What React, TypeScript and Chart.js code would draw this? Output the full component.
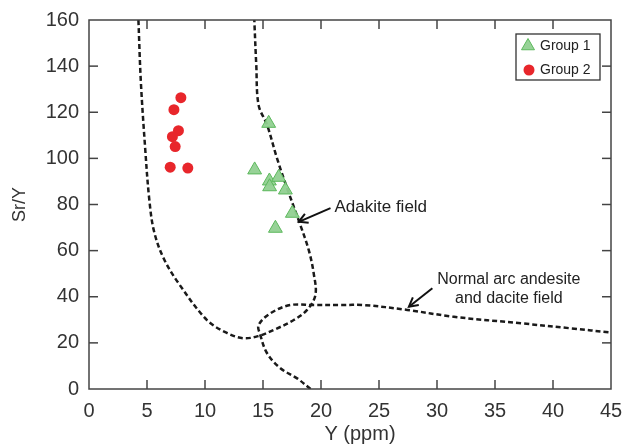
import React, { useEffect, useRef } from "react";
import { Chart, registerables } from "chart.js";

Chart.register(...registerables);

// ---- data ----
const group1X = [15.49, 14.28, 15.55, 16.35, 15.57, 16.93, 17.53, 16.07];
const group1Y = [115.2, 95.0, 90.2, 91.8, 87.7, 86.3, 76.2, 69.7];
const group2X = [7.92, 7.32, 7.71, 7.19, 7.43, 7.0, 8.52];
const group2Y = [126.3, 121.1, 112.0, 109.4, 105.1, 96.2, 95.8];

const adakiteX = [4.26, 4.47, 4.84, 5.2, 5.6, 6.42, 7.7, 10.17, 11.89, 13.33, 14.62, 15.92, 17.65, 18.8, 19.52, 19.37, 18.94, 18.22, 17.08, 16.21, 15.35, 14.62, 14.42, 14.25];
const adakiteY = [160, 133.2, 104.5, 82.0, 68.5, 56.8, 46.0, 29.9, 24.3, 22.0, 23.0, 25.6, 29.9, 34.3, 40.8, 50.2, 60.3, 71.1, 87.0, 100.0, 114.5, 123.1, 140.5, 160];

const arcX = [19.1, 17.94, 16.5, 15.35, 14.77, 14.62, 15.63, 17.36, 19.37, 21.68, 23.69, 27.44, 31.46, 37.22, 41.54, 45];
const arcY = [0, 4.6, 9.0, 15.5, 23.4, 27.7, 32.8, 36.4, 36.4, 36.4, 36.4, 34.3, 31.3, 28.5, 26.3, 24.5];

const xTickValues = [0, 5, 10, 15, 20, 25, 30, 35, 40, 45];
const yTickValues = [0, 20, 40, 60, 80, 100, 120, 140, 160];

const seriesNames = ["Group 1", "Group 2"];
const xTitle = "Y (ppm)";
const yTitle = "Sr/Y";
const adakiteLabel = ["Adakite field"];
const arcLabel = ["Normal arc andesite", "and dacite field"];
// annotation anchors in data units: [tailX, tailY, tipX, tipY]
const adakiteArrow = [20.82, 78.4, 18.08, 72.5];
const arcArrow = [29.6, 43.7, 27.58, 35.7];
const adakiteLabelPos = [21.16, 78.9];
const arcLabelPos = [36.19, 47.3, 39.0];

const FONT = "'Liberation Sans', Arial, sans-serif";
const TEXT = "#333";
const G_FILL = "rgba(145,208,145,0.95)";
const G_EDGE = "#5cb85c";
const R_FILL = "#e8262b";

const toPts = (xs: number[], ys: number[]) => xs.map((v, i) => ({ x: v, y: ys[i] }));

const annotPlugin = {
  id: "annot",
  afterDraw(chart: any) {
    const { ctx, chartArea: a, scales } = chart;
    const xs = scales.x;
    const ys = scales.y;
    ctx.save();
    // frame
    ctx.strokeStyle = "#444";
    ctx.lineWidth = 1.5;
    ctx.strokeRect(a.left, a.top, a.right - a.left, a.bottom - a.top);
    const line = (x1: number, y1: number, x2: number, y2: number) => {
      ctx.beginPath();
      ctx.moveTo(x1, y1);
      ctx.lineTo(x2, y2);
      ctx.stroke();
    };
    const TL = 9;
    xTickValues.forEach((v) => {
      const px = xs.getPixelForValue(v);
      if (px <= a.left + 1 || px >= a.right - 1) return;
      line(px, a.bottom, px, a.bottom - TL);
      line(px, a.top, px, a.top + TL);
    });
    yTickValues.forEach((v) => {
      const py = ys.getPixelForValue(v);
      if (py <= a.top + 1 || py >= a.bottom - 1) return;
      line(a.left, py, a.left + TL, py);
      line(a.right, py, a.right - TL, py);
    });

    // axis titles
    ctx.fillStyle = TEXT;
    ctx.textAlign = "center";
    ctx.textBaseline = "middle";
    ctx.font = `20px ${FONT}`;
    ctx.fillText(xTitle, (a.left + a.right) / 2 + 10, 434);
    ctx.font = `18px ${FONT}`;
    ctx.save();
    ctx.translate(20, (a.top + a.bottom) / 2);
    ctx.rotate(-Math.PI / 2);
    ctx.fillText(yTitle, 0, 0);
    ctx.restore();

    // arrows
    const arrow = (arr: number[]) => {
      const x1 = xs.getPixelForValue(arr[0]);
      const y1 = ys.getPixelForValue(arr[1]);
      const x2 = xs.getPixelForValue(arr[2]);
      const y2 = ys.getPixelForValue(arr[3]);
      ctx.strokeStyle = "#111";
      ctx.lineWidth = 2;
      line(x1, y1, x2, y2);
      const ang = Math.atan2(y2 - y1, x2 - x1);
      const hl = 10;
      ctx.beginPath();
      ctx.moveTo(x2 - hl * Math.cos(ang - 0.5), y2 - hl * Math.sin(ang - 0.5));
      ctx.lineTo(x2, y2);
      ctx.lineTo(x2 - hl * Math.cos(ang + 0.5), y2 - hl * Math.sin(ang + 0.5));
      ctx.stroke();
    };
    arrow(adakiteArrow);
    arrow(arcArrow);

    // field labels
    ctx.fillStyle = "#222";
    ctx.textAlign = "left";
    ctx.font = `17px ${FONT}`;
    ctx.fillText(adakiteLabel[0], xs.getPixelForValue(adakiteLabelPos[0]), ys.getPixelForValue(adakiteLabelPos[1]));
    ctx.font = `16px ${FONT}`;
    ctx.textAlign = "center";
    ctx.fillText(arcLabel[0], xs.getPixelForValue(arcLabelPos[0]), ys.getPixelForValue(arcLabelPos[1]));
    ctx.fillText(arcLabel[1], xs.getPixelForValue(arcLabelPos[0]), ys.getPixelForValue(arcLabelPos[2]));

    // legend
    const lx = a.right - 95;
    const ly = a.top + 14;
    ctx.strokeStyle = "#333";
    ctx.lineWidth = 1.3;
    ctx.strokeRect(lx, ly, 84, 46);
    const tx = lx + 12, ty = ly + 12, r = 7.5;
    ctx.beginPath();
    ctx.moveTo(tx, ty - r);
    ctx.lineTo(tx + r * 0.866, ty + r * 0.5);
    ctx.lineTo(tx - r * 0.866, ty + r * 0.5);
    ctx.closePath();
    ctx.fillStyle = G_FILL;
    ctx.fill();
    ctx.strokeStyle = G_EDGE;
    ctx.lineWidth = 1;
    ctx.stroke();
    ctx.beginPath();
    ctx.arc(lx + 13, ly + 36, 5.5, 0, Math.PI * 2);
    ctx.fillStyle = R_FILL;
    ctx.fill();
    ctx.fillStyle = "#222";
    ctx.font = `14px ${FONT}`;
    ctx.textAlign = "left";
    ctx.fillText(seriesNames[0], lx + 24, ty);
    ctx.fillText(seriesNames[1], lx + 24, ly + 36);
    ctx.restore();
  },
};

export default function App() {
  const ref = useRef<HTMLCanvasElement | null>(null);
  useEffect(() => {
    if (!ref.current) return;
    const chart = new Chart(ref.current, {
      type: "scatter",
      data: {
        datasets: [
          {
            label: seriesNames[0],
            data: toPts(group1X, group1Y),
            pointStyle: "triangle",
            pointRadius: 8,
            backgroundColor: G_FILL,
            borderColor: G_EDGE,
            borderWidth: 1,
          },
          {
            label: seriesNames[1],
            data: toPts(group2X, group2Y),
            pointStyle: "circle",
            pointRadius: 5.5,
            backgroundColor: R_FILL,
            borderColor: R_FILL,
            borderWidth: 0,
          },
          {
            label: "Adakite field",
            data: toPts(adakiteX, adakiteY),
            showLine: true,
            pointRadius: 0,
            borderColor: "#1a1a1a",
            borderWidth: 2.5,
            borderDash: [5, 3],
            tension: 0.35,
            fill: false,
          },
          {
            label: "Normal arc",
            data: toPts(arcX, arcY),
            showLine: true,
            pointRadius: 0,
            borderColor: "#1a1a1a",
            borderWidth: 2.5,
            borderDash: [5, 3],
            tension: 0.35,
            fill: false,
          },
        ],
      },
      options: {
        responsive: false,
        animation: false,
        layout: { padding: { top: 20, right: 20, left: 0, bottom: 0 } },
        plugins: { legend: { display: false }, tooltip: { enabled: false } },
        scales: {
          x: {
            type: "linear",
            min: 0,
            max: 45,
            grid: { display: false, drawTicks: false },
            border: { display: false },
            ticks: {
              stepSize: 5,
              padding: 10,
              color: TEXT,
              font: { family: FONT, size: 20 },
              maxRotation: 0,
            },
            afterFit: (s: any) => {
              s.height = 56;
              s.paddingLeft = 0;
              s.paddingRight = 0;
            },
          },
          y: {
            type: "linear",
            min: 0,
            max: 160,
            grid: { display: false, drawTicks: false },
            border: { display: false },
            ticks: {
              stepSize: 20,
              padding: 10,
              color: TEXT,
              font: { family: FONT, size: 20 },
            },
            afterFit: (s: any) => {
              s.width = 89;
              s.paddingTop = 0;
              s.paddingBottom = 0;
            },
          },
        },
      },
      plugins: [annotPlugin],
    } as any);
    return () => chart.destroy();
  }, []);
  return (
    <div style={{ position: "fixed", left: 0, top: 0, width: 631, height: 445, background: "#fff" }}>
      <canvas ref={ref} width={631} height={445} style={{ display: "block" }} />
    </div>
  );
}
